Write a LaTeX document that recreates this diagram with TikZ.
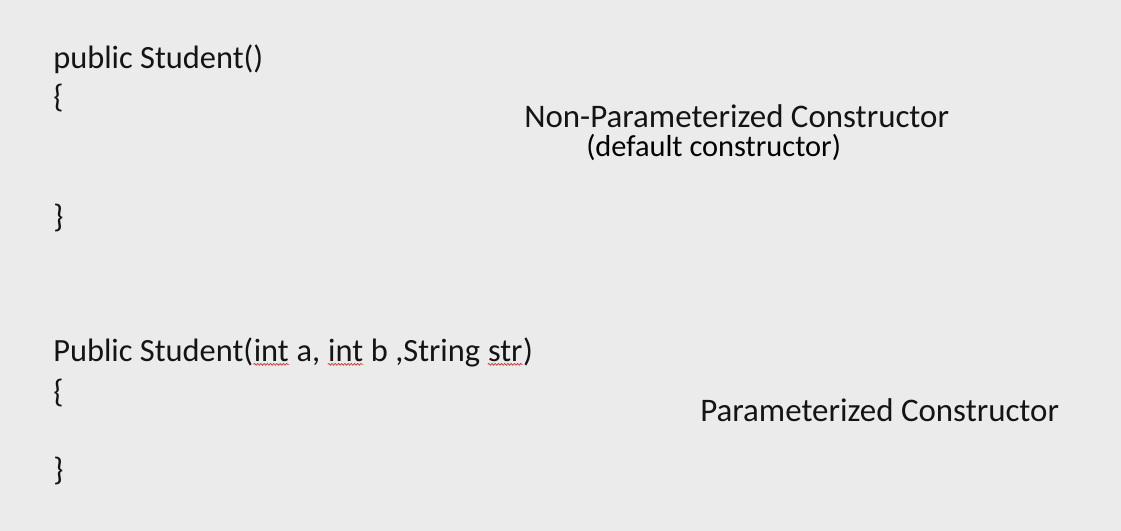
\documentclass[tikz,border=0pt]{standalone}
\usepackage{fontspec}
\setmainfont{Carlito}
\usetikzlibrary{decorations.pathmorphing}
\definecolor{bg}{RGB}{235,235,235}
\definecolor{ink}{RGB}{20,20,20}
\definecolor{squig}{RGB}{220,40,40}
\begin{document}
\begin{tikzpicture}[x=0.75pt,y=-0.75pt,
  code/.style={anchor=base west,inner sep=0pt,text=ink,font=\fontsize{24.3}{29}\selectfont},
  label/.style={anchor=base west,inner sep=0pt,text=ink,font=\fontsize{24.7}{30}\selectfont},
  sublabel/.style={anchor=base west,inner sep=0pt,text=black,font=\fontsize{22.8}{27}\selectfont},
  wave/.style={draw=squig,line width=0.5pt,decorate,decoration={snake,amplitude=0.7pt,segment length=2.4pt}}]
\fill[bg] (0,0) rectangle (1121,531);
\useasboundingbox (0,0) rectangle (1121,531);
\node[code] (sig1) at (53,69) {public Student()};
\node[code] (open1) at (53,108) {\{};
\node[code] (close1) at (53,228) {\}};
\node[code] (s2a) at (53,361) {Public Student(};
\node[code] (int1) at (s2a.base east) {int};
\node[code] (s2b) at (int1.base east) {~a,~\mbox{}};
\node[code] (int2) at (s2b.base east) {int};
\node[code] (s2c) at (int2.base east) {~b ,String~\mbox{}};
\node[code] (str) at (s2c.base east) {str};
\node[code] (s2d) at (str.base east) {)};
\draw[wave] ([yshift=-2.5pt]int1.base west) -- ([yshift=-2.5pt]int1.base east);
\draw[wave] ([yshift=-2.5pt]int2.base west) -- ([yshift=-2.5pt]int2.base east);
\draw[wave] ([yshift=-2.5pt]str.base west) -- ([yshift=-2.5pt]str.base east);
\node[code] (open2) at (53,402) {\{};
\node[code] (close2) at (53,480) {\}};
\node[label] (nonparam) at (524,128) {Non-Parameterized Constructor};
\node[sublabel] (default) at (586,157) {(default constructor)};
\node[label] (param) at (700,421) {Parameterized Constructor};
\end{tikzpicture}
\end{document}
